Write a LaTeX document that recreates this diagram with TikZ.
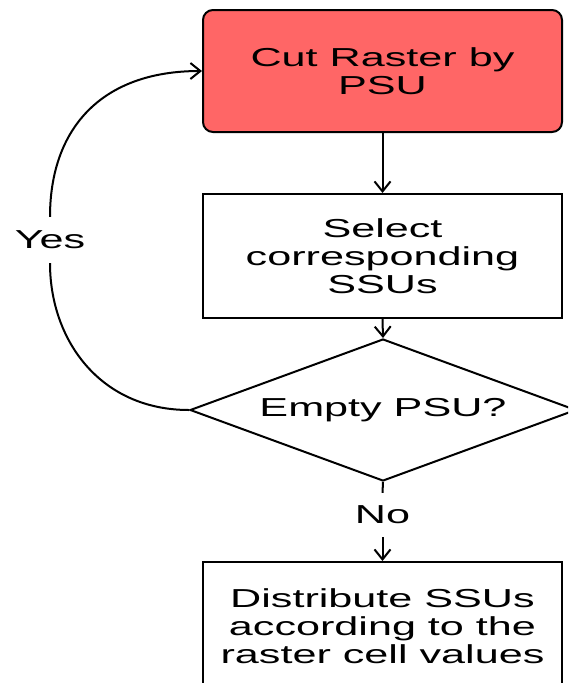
\documentclass[tikz,border=0pt]{standalone}
\usepackage{fontspec}
\newfontfamily\lab[FakeStretch=1.66]{Liberation Sans}
\usetikzlibrary{shapes.geometric,arrows.meta}
\definecolor{boxred}{RGB}{255,102,102}
\begin{document}
\begin{tikzpicture}[x=1pt,y=-1pt,
  every node/.style={font=\lab\fontsize{26}{28}\selectfont, inner sep=0pt},
  procbox/.style={draw=black, line width=2pt, minimum width=359pt, align=center},
  conn/.style={line width=2pt, -{Straight Barb[length=10pt,width=16pt]}},
  plainline/.style={line width=2pt}]
\useasboundingbox (0,0) rectangle (568,683);
\clip (0,0) rectangle (568,683);
\node[procbox, fill=boxred, rounded corners=10pt, minimum height=122pt] (cut) at (382.5,71) {Cut Raster by\\PSU};
\node[procbox, minimum height=124pt] (sel) at (382.5,256) {Select\\corresponding\\SSUs};
\node[diamond, draw, line width=2pt, minimum width=386pt, minimum height=142pt] (emp) at (383,410) {};
\node (emptxt) at (emp.center) {Empty PSU?};
\node[minimum height=46pt] (yes) at (50,240) {Yes};
\node[minimum height=44pt] (no) at (382.5,515) {No};
\node[procbox, anchor=north, minimum height=128pt] (dist) at (382.5,561) {Distribute SSUs\\according to the\\raster cell values};
\draw[conn] (cut.south) -- (sel.north);
\draw[conn] (sel.south) -- (emp.north);
\draw[plainline] (emp.south) -- (no.north);
\draw[conn] (no.south) -- (dist.north);
\draw[plainline] (emp.west) .. controls (100,410) and (50,340) .. (yes.south);
\draw[conn] (yes.north) .. controls (50,130) and (100,71) .. (cut.west);
\end{tikzpicture}
\end{document}
